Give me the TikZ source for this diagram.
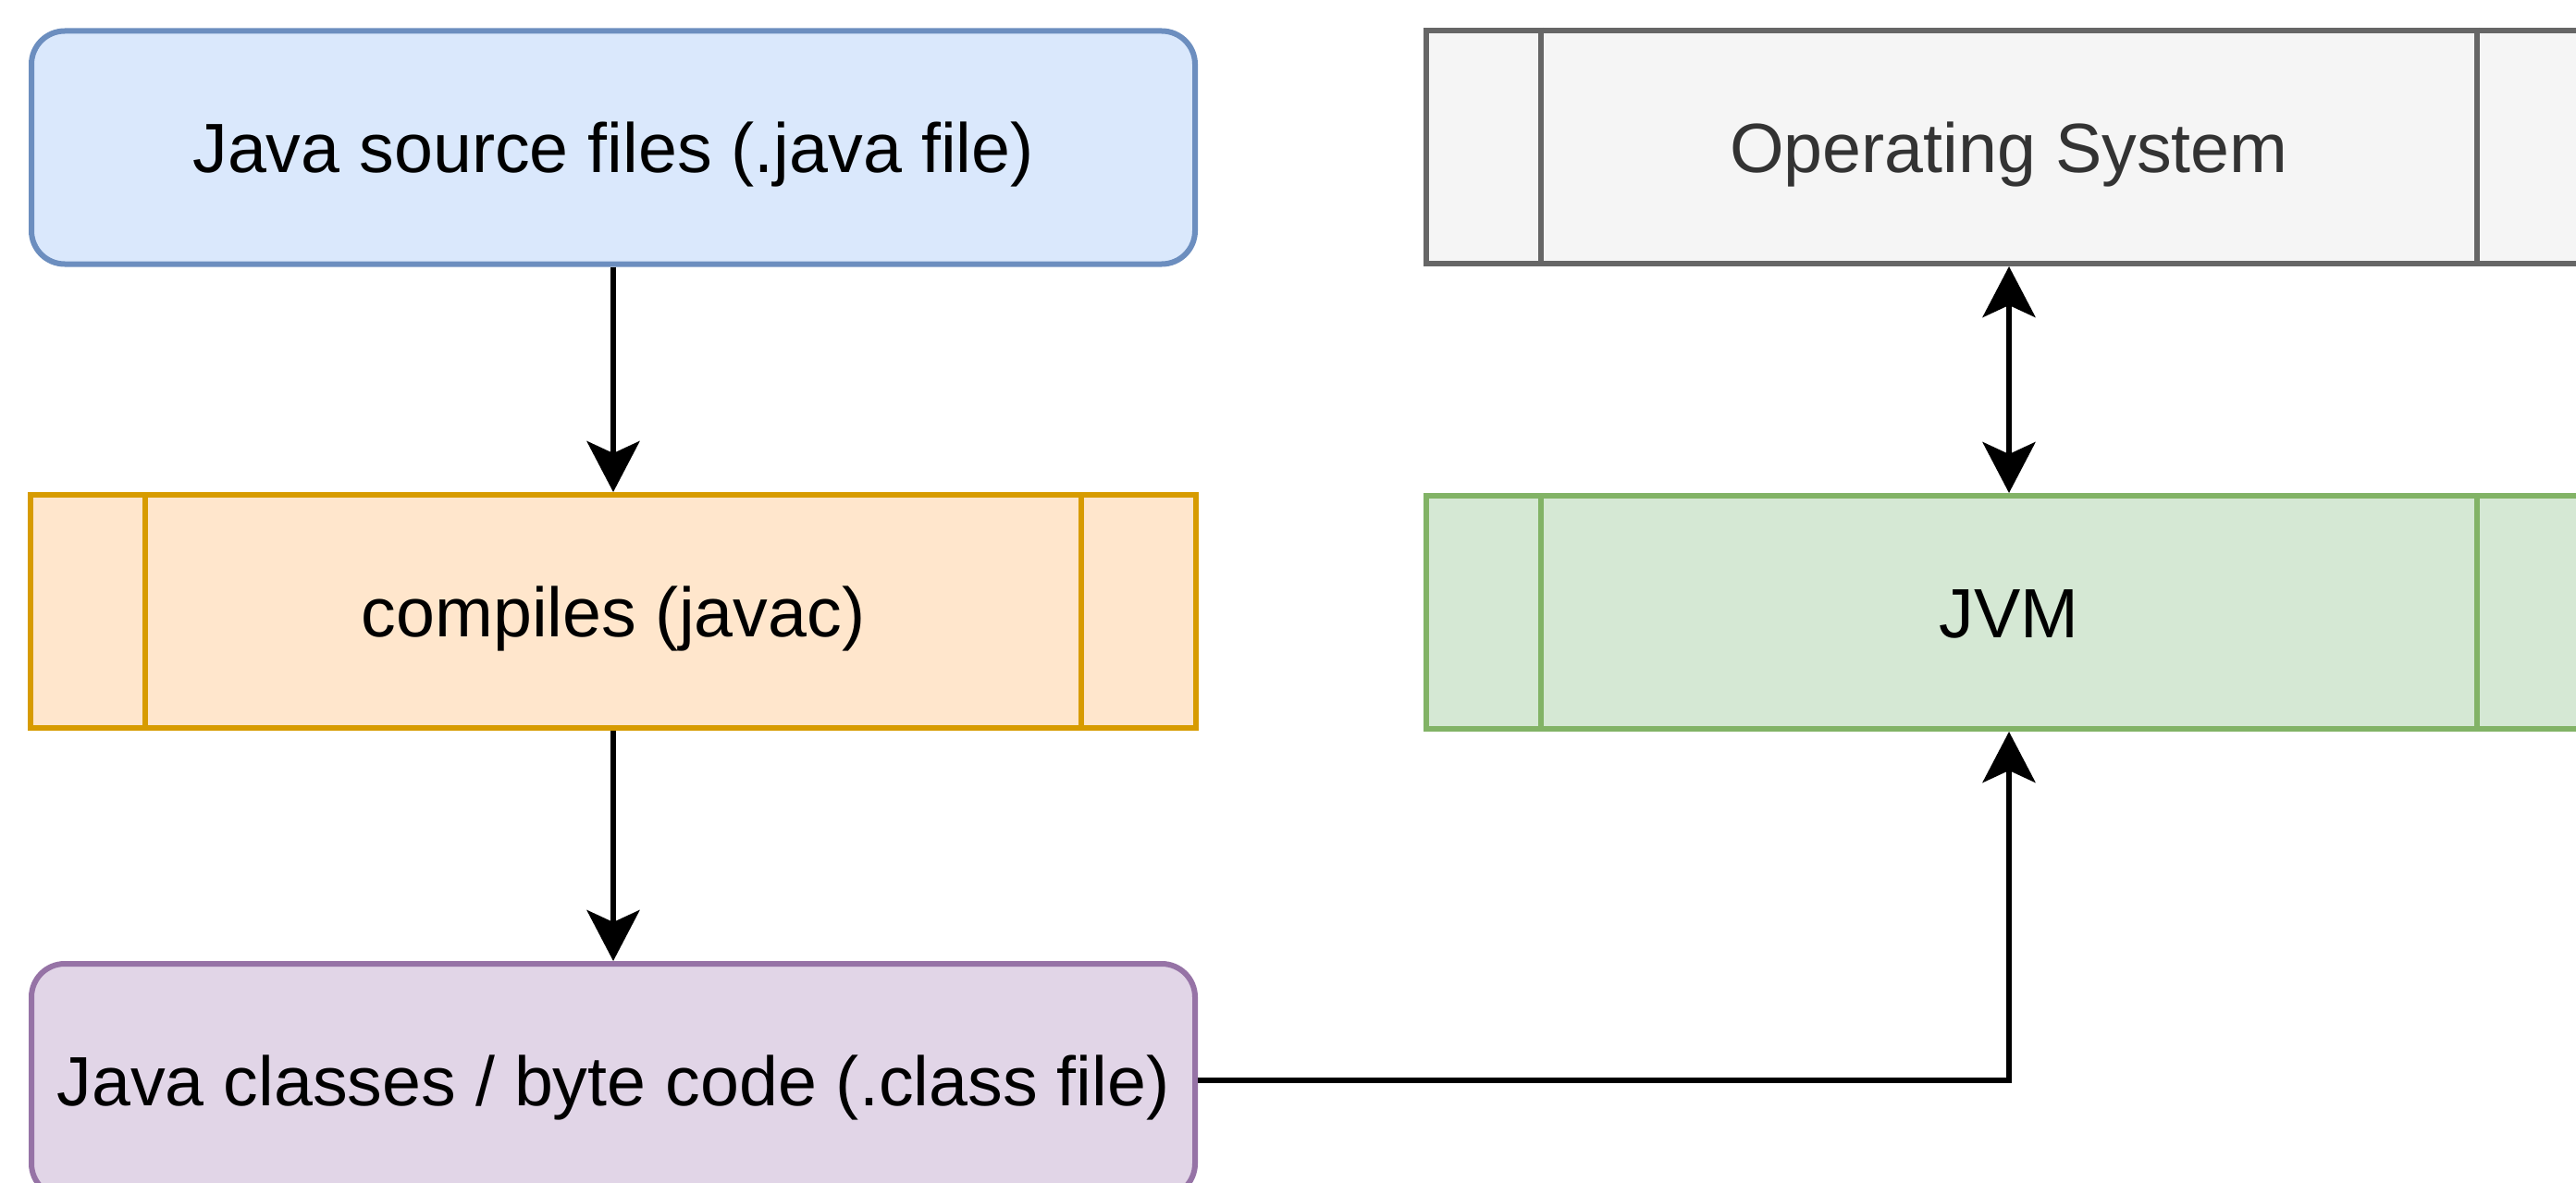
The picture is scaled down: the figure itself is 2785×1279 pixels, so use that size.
\documentclass[tikz,border=0pt]{standalone}
\usepackage{fontspec}
\setmainfont{Liberation Sans}
\usetikzlibrary{arrows.meta}
\definecolor{bluefill}{HTML}{DAE8FC}
\definecolor{bluedraw}{HTML}{6C8EBF}
\definecolor{orangefill}{HTML}{FFE6CC}
\definecolor{orangedraw}{HTML}{D79B00}
\definecolor{purplefill}{HTML}{E1D5E7}
\definecolor{purpledraw}{HTML}{9673A6}
\definecolor{greyfill}{HTML}{F5F5F5}
\definecolor{greydraw}{HTML}{666666}
\definecolor{greytext}{HTML}{333333}
\definecolor{greenfill}{HTML}{D5E8D4}
\definecolor{greendraw}{HTML}{82B366}
\tikzset{
  box/.style={rectangle, inner sep=0pt, line width=6pt, minimum height=252pt,
    text height=54pt, text depth=0pt,
    font=\fontsize{75.4}{90}\selectfont, text=black},
  roundbox/.style={box, rounded corners=36pt, minimum width=1258pt},
  procbox/.style={box, minimum width=1260pt},
  conn/.style={line width=6pt, -{Stealth[length=55pt, width=57pt, inset=13pt]}},
  dconn/.style={line width=6pt, {Stealth[length=55pt, width=57pt, inset=13pt]}-{Stealth[length=55pt, width=57pt, inset=13pt]}},
  procline/.style={line width=6pt}
}
\begin{document}
\begin{tikzpicture}[x=1pt, y=-1pt]
\clip (0,0) rectangle (2785,1279);
\fill[white] (0,0) rectangle (2785,1279);
\node[roundbox, fill=bluefill, draw=bluedraw] (src) at (663,159.5) {Java source files (.java file)};
\node[procbox, fill=orangefill, draw=orangedraw] (javac) at (663,661) {compiles (javac)};
\node[roundbox, fill=purplefill, draw=purpledraw] (cls) at (663,1168) {Java classes / byte code (.class file)};
\node[procbox, fill=greyfill, draw=greydraw, text=greytext] (os) at (2172,159) {Operating System};
\node[procbox, fill=greenfill, draw=greendraw] (jvm) at (2172,662) {JVM};
\foreach \n/\c in {javac/orangedraw, os/greydraw, jvm/greendraw}{
  \draw[procline, draw=\c] ([xshift=127pt]\n.north west) -- ([xshift=127pt]\n.south west);
  \draw[procline, draw=\c] ([xshift=-127pt]\n.north east) -- ([xshift=-127pt]\n.south east);
}
\draw[conn] (src) -- (javac);
\draw[conn] (javac) -- (cls);
\draw[dconn] (os) -- (jvm);
\draw[conn] (cls.east) -| (jvm.south);
\end{tikzpicture}
\end{document}
